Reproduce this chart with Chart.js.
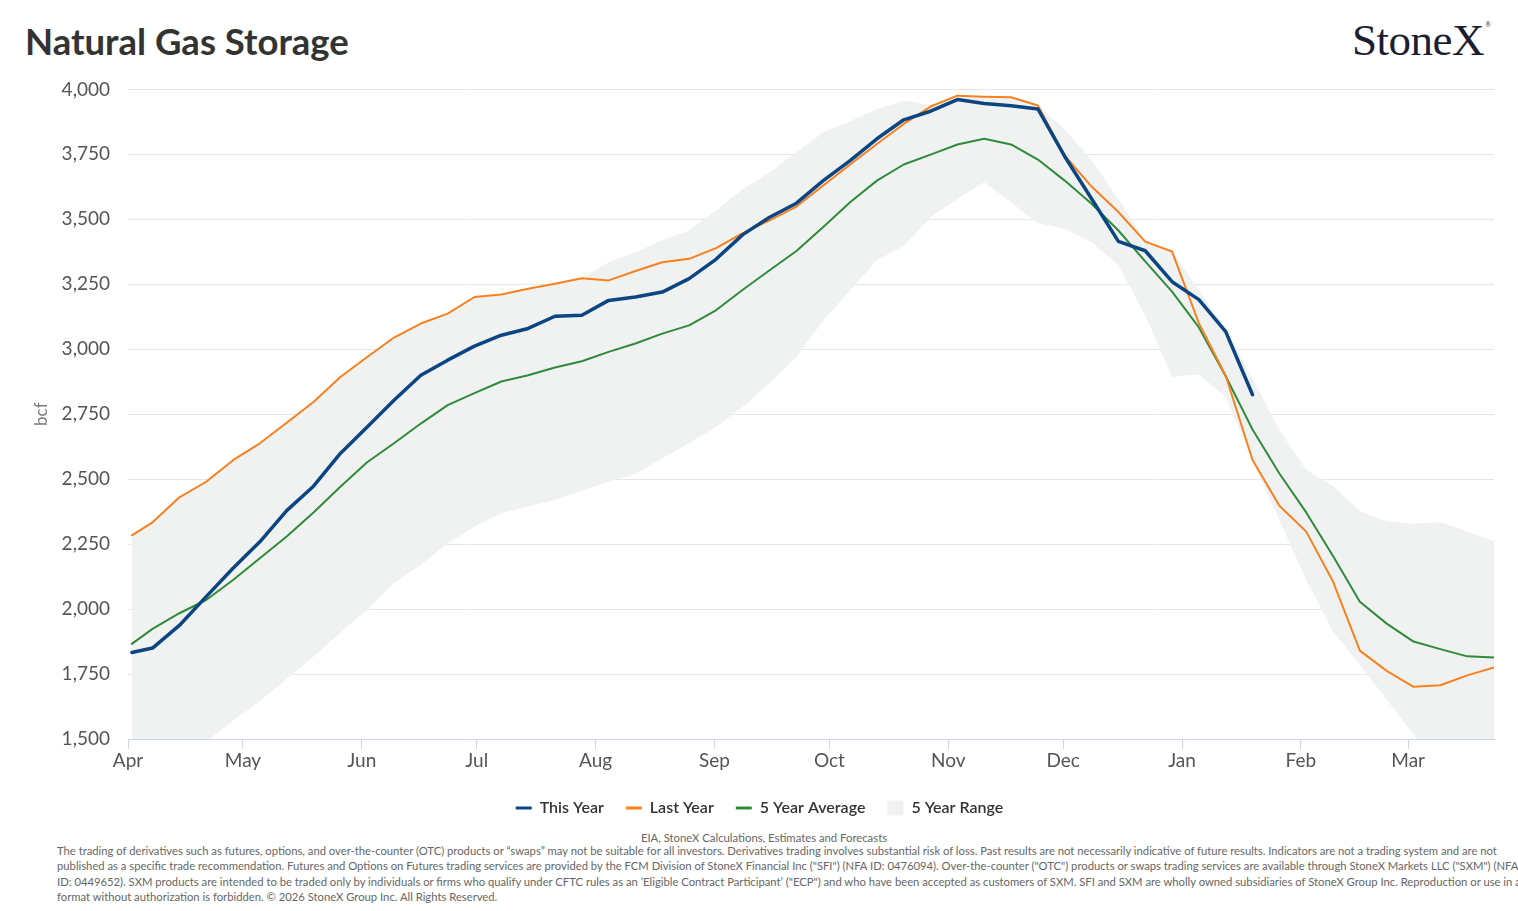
<!DOCTYPE html>
<html lang="en">
<head>
    <meta charset="UTF-8">
    <title>Natural Gas Storage</title>
    <style>
        body {
            margin: 0;
            padding: 0;
            width: 1518px;
            height: 911px;
            overflow: hidden;
            background: #ffffff;
            font-family: Lato, "Open Sans", sans-serif;
            position: relative;
        }
        .title {
            position: absolute;
            left: 25px;
            top: 19px;
            font-size: 36.5px;
            font-weight: 700;
            color: #333333;
        }
        .logo {
            position: absolute;
            left: 1352px;
            top: 14px;
            font-family: "Liberation Serif", "DejaVu Serif", serif;
            font-size: 45px;
            color: #1b1d33;
            letter-spacing: -0.5px;
        }
        .logo sup {
            font-size: 8px;
            vertical-align: 28px;
            margin-left: 1px;
        }
        .chart-box {
            position: absolute;
            left: 0;
            top: 60px;
            width: 1518px;
            height: 770px;
        }
        .source {
            position: absolute;
            left: 0;
            width: 1528px;
            top: 831px;
            text-align: center;
            font-size: 11.3px;
            color: #666666;
        }
        .disclaimer {
            position: absolute;
            left: 57px;
            top: 843px;
            font-size: 11.25px;
            line-height: 15.4px;
            color: #666666;
            white-space: nowrap;
        }
    </style>
    <script src="https://cdn.jsdelivr.net/npm/chart.js"></script>
</head>
<body>
<div class="title">Natural Gas Storage</div>
<div class="logo">StoneX<sup>®</sup></div>
<div class="chart-box"><canvas id="storageChart"></canvas></div>
<div class="source">EIA, StoneX Calculations, Estimates and Forecasts</div>
<div class="disclaimer">
The trading of derivatives such as futures, options, and over-the-counter (OTC) products or “swaps” may not be suitable for all investors. Derivatives trading involves substantial risk of loss. Past results are not necessarily indicative of future results. Indicators are not a trading system and are not<br>
published as a specific trade recommendation. Futures and Options on Futures trading services are provided by the FCM Division of StoneX Financial Inc ("SFI") (NFA ID: 0476094). Over-the-counter ("OTC") products or swaps trading services are available through StoneX Markets LLC ("SXM") (NFA<br>
ID: 0449652). SXM products are intended to be traded only by individuals or firms who qualify under CFTC rules as an ‘Eligible Contract Participant’ ("ECP") and who have been accepted as customers of SXM. SFI and SXM are wholly owned subsidiaries of StoneX Group Inc. Reproduction or use in any<br>
format without authorization is forbidden. © 2026 StoneX Group Inc. All Rights Reserved.
</div>
<script>
    // days since Apr 1 for each weekly report
    const weekDays = [1, 6.4, 13.4, 20.4, 27.4, 34.4, 41.4, 48.4, 55.4, 62.4, 69.4, 76.4, 83.4,
        90.4, 97.4, 104.4, 111.4, 118.4, 125.4, 132.4, 139.4, 146.4, 153.4, 160.4, 167.4,
        174.4, 181.4, 188.4, 195.4, 202.4, 209.4, 216.4, 223.4, 230.4, 237.4, 244.4, 251.4,
        258.4, 265.4, 272.4, 279.4, 286.4, 293.4, 300.4, 307.4, 314.4, 321.4, 328.4, 335.4,
        342.4, 349.4, 356.4];

    // month ticks on the x axis
    const monthStarts = [0, 30, 61, 91, 122, 153, 183, 214, 244, 275, 306, 334];
    const monthLabels = ['Apr', 'May', 'Jun', 'Jul', 'Aug', 'Sep', 'Oct', 'Nov', 'Dec', 'Jan', 'Feb', 'Mar'];

    // storage, bcf
    const thisYear = [1833, 1850, 1937, 2048, 2157, 2259, 2379, 2473, 2599, 2701, 2804, 2900, 2958,
        3012, 3054, 3080, 3127, 3131, 3188, 3201, 3220, 3272, 3346, 3441, 3508,
        3562, 3649, 3726, 3810, 3883, 3916, 3961, 3946, 3937, 3925, 3742, 3579,
        3415, 3379, 3260, 3191, 3068, 2825];

    const lastYear = [2284, 2334, 2430, 2490, 2573, 2638, 2717, 2797, 2893, 2970, 3045, 3099, 3137,
        3201, 3211, 3233, 3252, 3273, 3265, 3301, 3335, 3348, 3389, 3447, 3496,
        3549, 3630, 3711, 3790, 3867, 3934, 3976, 3972, 3970, 3938, 3745, 3626,
        3528, 3414, 3376, 3100, 2898, 2574, 2398, 2298, 2106, 1840, 1762, 1701,
        1707, 1745, 1775];

    const fiveYearAvg = [1866, 1924, 1984, 2035, 2112, 2196, 2279, 2372, 2471, 2565, 2638, 2714, 2785,
        2831, 2876, 2900, 2930, 2954, 2990, 3022, 3060, 3092, 3150, 3229, 3304,
        3378, 3470, 3566, 3649, 3711, 3749, 3788, 3810, 3788, 3730, 3649, 3560,
        3457, 3338, 3222, 3084, 2896, 2691, 2522, 2372, 2204, 2028, 1944, 1875,
        1846, 1818, 1814];

    const rangeHigh = [2284, 2334, 2430, 2490, 2573, 2638, 2717, 2797, 2893, 2970, 3045, 3099, 3137,
        3201, 3211, 3233, 3252, 3273, 3335, 3374, 3419, 3457, 3534, 3617, 3681,
        3758, 3835, 3878, 3925, 3957, 3940, 3976, 3972, 3970, 3938, 3848, 3726,
        3579, 3416, 3378, 3227, 3080, 2888, 2690, 2535, 2474, 2377, 2338, 2328,
        2334, 2300, 2260];

    const rangeLow = [1300, 1340, 1410, 1490, 1570, 1645, 1732, 1817, 1909, 1997, 2100, 2170, 2253,
        2317, 2369, 2395, 2420, 2455, 2490, 2520, 2580, 2638, 2701, 2778, 2868,
        2970, 3111, 3227, 3342, 3397, 3508, 3579, 3643, 3566, 3485, 3464, 3412,
        3323, 3130, 2893, 2904, 2815, 2572, 2343, 2112, 1914, 1786, 1651, 1517,
        1400, 1330, 1290];

    const blue = '#0b4582';
    const orange = '#f9801e';
    const green = '#2f8a3a';
    const rangeFill = '#f0f2f1';

    function toPoints(values) {
        return values.map((v, i) => ({ x: weekDays[i], y: v }));
    }

    const ctx = document.getElementById('storageChart').getContext('2d');
    new Chart(ctx, {
        type: 'line',
        data: {
            datasets: [
                { label: 'This Year', data: toPoints(thisYear), borderColor: blue, backgroundColor: blue, borderWidth: 3.5, fill: false },
                { label: 'Last Year', data: toPoints(lastYear), borderColor: orange, backgroundColor: orange, borderWidth: 2, fill: false },
                { label: '5 Year Average', data: toPoints(fiveYearAvg), borderColor: green, backgroundColor: green, borderWidth: 2, fill: false },
                { label: '5 Year Range', data: toPoints(rangeHigh), borderColor: rangeFill, backgroundColor: rangeFill, borderWidth: 0, fill: '+1' },
                { label: 'range low', data: toPoints(rangeLow), borderColor: rangeFill, backgroundColor: rangeFill, borderWidth: 0, fill: false }
            ]
        },
        options: {
            responsive: true,
            maintainAspectRatio: false,
            animation: false,
            layout: { padding: { top: 28, left: 25, right: 24, bottom: 4 } },
            elements: {
                point: { radius: 0, hoverRadius: 0 },
                line: { tension: 0, borderJoinStyle: 'round', borderCapStyle: 'round' }
            },
            plugins: {
                tooltip: { enabled: false },
                legend: {
                    position: 'bottom',
                    labels: {
                        usePointStyle: true,
                        pointStyleWidth: 16,
                        boxHeight: 15,
                        padding: 22,
                        color: '#333333',
                        font: { family: 'Lato', size: 16, weight: '600' },
                        generateLabels: chart => chart.data.datasets.slice(0, 4).map((ds, i) => ({
                            text: ds.label,
                            fillStyle: ds.borderColor,
                            strokeStyle: ds.borderColor,
                            lineWidth: i === 3 ? 0 : 3,
                            pointStyle: i === 3 ? 'rect' : 'line',
                            fontColor: '#333333',
                            hidden: false,
                            datasetIndex: i
                        }))
                    }
                }
            },
            scales: {
                x: {
                    type: 'linear',
                    min: 0,
                    max: 356.4,
                    afterBuildTicks: scale => { scale.ticks = monthStarts.map(v => ({ value: v })); },
                    afterFit: scale => { scale.height = 39; },
                    ticks: {
                        autoSkip: false,
                        maxRotation: 0,
                        padding: 0,
                        color: '#555555',
                        font: { family: 'Lato', size: 19 },
                        callback: (value, index) => monthLabels[index]
                    },
                    grid: { drawOnChartArea: false, drawTicks: true, tickLength: 10, color: '#ccd6eb' },
                    border: { color: '#ccd6eb' }
                },
                y: {
                    min: 1500,
                    max: 4000,
                    afterFit: scale => { scale.width = 103; },
                    ticks: {
                        stepSize: 250,
                        padding: 18,
                        color: '#555555',
                        font: { family: 'Lato', size: 19 },
                        callback: value => value.toLocaleString('en-US')
                    },
                    grid: { color: '#e6e6e6', drawTicks: false },
                    border: { display: false },
                    title: {
                        display: true,
                        text: 'bcf',
                        color: '#7a7a7a',
                        font: { family: 'Lato', size: 17 },
                        padding: { top: 6, bottom: 0 }
                    }
                }
            }
        }
    });
</script>
</body>
</html>
